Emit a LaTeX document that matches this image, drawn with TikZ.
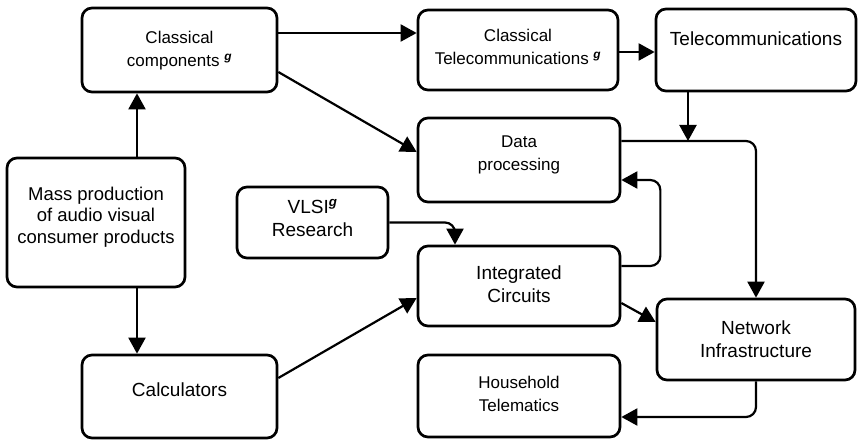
\documentclass[tikz,border=0pt]{standalone}
\usepackage{fontspec}
\setmainfont{Liberation Sans}
\usetikzlibrary{arrows.meta}
\begin{document}
\begin{tikzpicture}[x=1pt,y=-1pt,
  box/.style={draw, line width=2.7pt, rounded corners=10pt, inner sep=0pt},
  txt/.style={align=center, inner sep=0pt, text depth=0pt, font=\fontsize{17}{23}\selectfont},
  txtb/.style={txt, font=\fontsize{19}{23}\selectfont},
  arr/.style={line width=2.2pt, -{Triangle[length=16pt,width=17pt]}},
  elbow/.style={arr, rounded corners=10pt}
]
\useasboundingbox (0,0) rectangle (860,441);

% boxes
\node[box, minimum width=195pt, minimum height=84pt] (cc)   at (179.5,50)  {};
\node[box, minimum width=200pt, minimum height=80pt] (ct)   at (518,50)    {};
\node[box, minimum width=200pt, minimum height=82pt] (tel)  at (756,50)    {};
\node[box, minimum width=202pt, minimum height=84pt] (dp)   at (519,160)   {};
\node[box, minimum width=178pt, minimum height=129pt] (mass) at (96,222.5) {};
\node[box, minimum width=151pt, minimum height=71pt] (vlsi) at (312.5,222.5) {};
\node[box, minimum width=202pt, minimum height=80pt] (ic)   at (519,286)   {};
\node[box, minimum width=198pt, minimum height=81pt] (ni)   at (756,339.5) {};
\node[box, minimum width=202pt, minimum height=82pt] (hh)   at (519,396)   {};
\node[box, minimum width=195pt, minimum height=83pt] (calc) at (179.5,396.5) {};

% labels
\newcommand{\gmark}{\textsuperscript{\textbf{\textit{g}}}}
\node[txt]  (cc-t)   at (179.5,49)  {Classical\\components \gmark};
\node[txt]  (ct-t)   at (518,47)    {Classical\\Telecommunications \gmark};
\node[txtb] (tel-t)  at (756,39)    {Telecommunications};
\node[txt]  (dp-t)   at (519,153)   {Data\\processing};
\node[txtb, font=\fontsize{18.5}{21.5}\selectfont] (mass-t) at (96,215) {Mass production\\of audio visual\\consumer products};
\node[txtb] (vlsi-t) at (312.5,218) {VLSI\gmark\\Research};
\node[txtb] (ic-t)   at (519,284)   {Integrated\\Circuits};
\node[txtb] (ni-t)   at (756,339)   {Network\\Infrastructure};
\node[txt]  (hh-t)   at (519,393.5) {Household\\Telematics};
\node[txtb] (calc-t) at (179.5,390) {Calculators};

% helper coordinates
\coordinate (xm) at (137,0);
\coordinate (xt) at (688,0);
\coordinate (xv) at (455,0);
\coordinate (ya) at (0,33);
\coordinate (dpout) at ([yshift=19pt]dp.east);

% connectors
\draw[arr] (xm |- mass.north) -- (xm |- cc.south);
\draw[arr] (xm |- mass.south) -- (xm |- calc.north);
\draw[arr] (ya -| cc.east) -- (ya -| ct.west);
\draw[arr] ([yshift=-22pt]cc.east) -- ([yshift=8pt]dp.west);
\draw[arr] ([yshift=-2pt]ct.east) -- ([yshift=-2pt]ct.east -| tel.west);
\draw[arr] (xt |- tel.south) -- (xt |- dpout);
\draw[elbow] (dpout) -| (ni.north);
\draw[elbow] ([yshift=20pt]ic.east) -- ++(39,0) |- ([yshift=-20pt]dp.east);
\draw[elbow] (vlsi.east) -| (xv |- ic.north);
\draw[arr] ([yshift=18.5pt]calc.east) -- ([yshift=-12pt]ic.west);
\draw[arr] ([yshift=-17pt]ic.east) -- ([yshift=17.5pt]ni.west);
\draw[elbow] (ni.south) |- ([yshift=-21pt]hh.east);
\end{tikzpicture}
\end{document}
